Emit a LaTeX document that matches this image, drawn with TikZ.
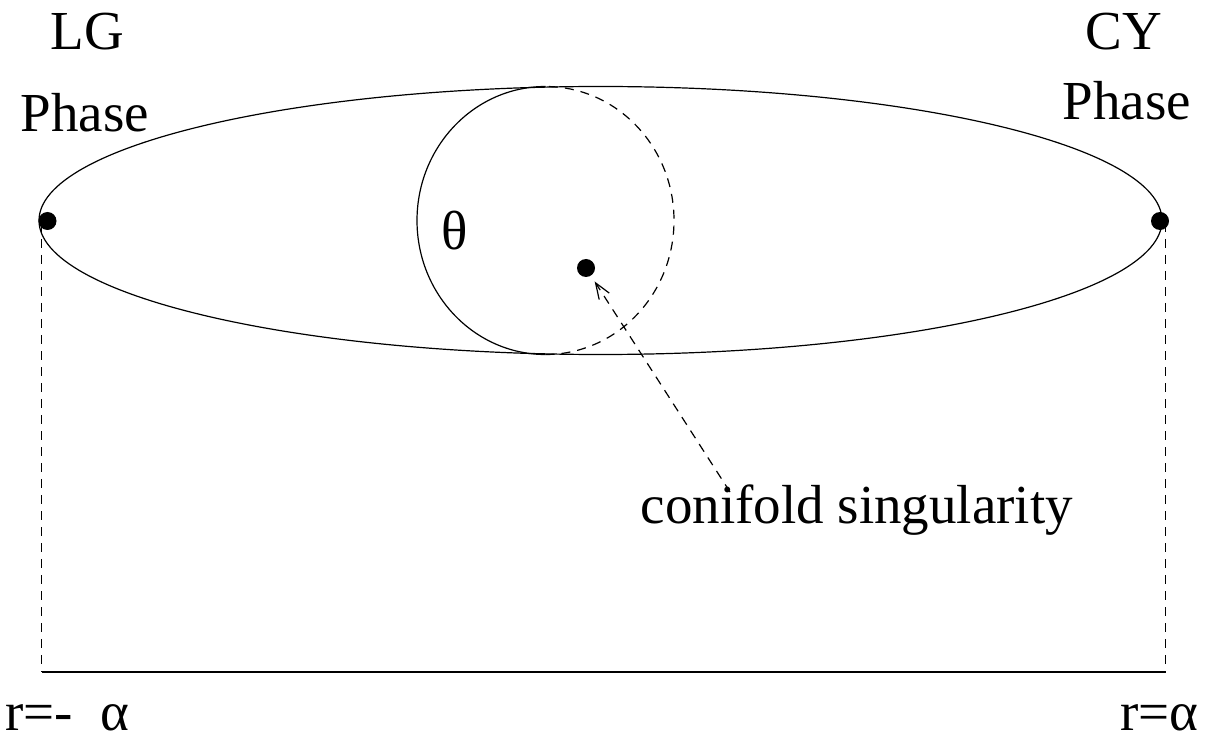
\documentclass[tikz,border=0pt]{standalone}
\usepackage{fontspec}
\setmainfont{Liberation Serif}
\usetikzlibrary{arrows.meta}
\begin{document}
\begin{tikzpicture}[x=0.5pt,y=0.5pt,
  line width=0.6pt,
  lbl/.style={anchor=base west,inner sep=0pt,font=\fontsize{27.5}{33}\selectfont},
  dotnode/.style={circle,fill=black,inner sep=0pt,minimum size=9pt},
  dashline/.style={dash pattern=on 4.5pt off 3.5pt}]
\useasboundingbox (0,0) rectangle (1225,740);
% ellipse
\draw (600.5,519.5) ellipse [x radius=561.5, y radius=134];
% circle: solid left half, dashed right half
\draw (545.5,653.5) arc[start angle=90, end angle=270, x radius=128.5, y radius=134];
\draw[dashline] (545.5,385.5) arc[start angle=-90, end angle=90, x radius=128.5, y radius=134];
% dots
\node[dotnode] (lg) at (47.5,519) {};
\node[dotnode] (cy) at (1160,519) {};
\node[dotnode] (con) at (586,472) {};
% axis
\coordinate (lt) at (41.5,517);
\coordinate (lb) at (41.5,68);
\coordinate (rt) at (1165.7,517);
\coordinate (rb) at (1165.7,68);
\draw[dashline] (lt) -- (lb);
\draw[dashline] (rt) -- (rb);
\draw (lb) -- (rb);
% labels
\node[lbl] (lgt) at (50,690) {LG};
\node[lbl] (lgp) at (20,608) {Phase};
\node[lbl] (cyt) at (1085,690) {CY};
\node[lbl] (cyp) at (1062,620) {Phase};
\node[lbl] (th) at (441,490) {θ};
\node[lbl] (cs) at (640,217) {conifold singularity};
\node[lbl] (rl) at (5,10) {r=-\ \ α};
\node[lbl] (rr) at (1120,10) {r=α};
% arrow
\coordinate (tail) at (730,248);
\draw[dashline,shorten >=8pt,-{Straight Barb[length=8pt,width=6pt]}] (tail) -- (con.center);
\end{tikzpicture}
\end{document}
